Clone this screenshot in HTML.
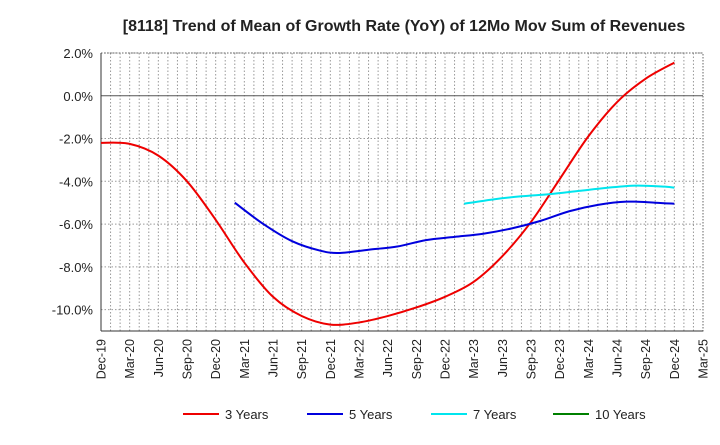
<!DOCTYPE html>
<html><head><meta charset="utf-8"><style>
body{margin:0;background:#fff;font-family:"Liberation Sans",sans-serif}
</style></head><body>
<svg id="c" width="720" height="440" xmlns="http://www.w3.org/2000/svg">
<text x="404" y="31" text-anchor="middle" font-size="16" font-weight="bold" fill="#222">[8118]  Trend of Mean of Growth Rate (YoY) of 12Mo Mov Sum of Revenues</text>
<g id="grid"></g><g id="axes"></g><g id="series"></g><g id="legend"></g>
</svg>
<script>
const xLabels=["Dec-19","Mar-20","Jun-20","Sep-20","Dec-20","Mar-21","Jun-21","Sep-21","Dec-21","Mar-22","Jun-22","Sep-22","Dec-22","Mar-23","Jun-23","Sep-23","Dec-23","Mar-24","Jun-24","Sep-24","Dec-24","Mar-25"];
const yTicks=[2,0,-2,-4,-6,-8,-10];
const m3=[0,3,6,9,12,15,18,21,24,27,30,33,36,39,42,45,48,51,54,57,60];
const v3=[-2.2,-2.25,-2.8,-4.0,-5.8,-7.8,-9.4,-10.3,-10.7,-10.6,-10.3,-9.9,-9.4,-8.7,-7.5,-5.9,-3.9,-1.9,-0.3,0.8,1.55];
const m5=[14,17,20,23,25,28,31,34,37,40,43,46,49,52,55,58,60];
const v5=[-5.0,-6.0,-6.8,-7.25,-7.35,-7.2,-7.05,-6.75,-6.6,-6.45,-6.2,-5.85,-5.4,-5.1,-4.95,-5.0,-5.05];
const m7=[38,41,44,47,50,53,56,59,60];
const v7=[-5.05,-4.85,-4.7,-4.6,-4.45,-4.3,-4.2,-4.25,-4.3];
const m10=[];const v10=[];
const NS="http://www.w3.org/2000/svg";
const L=101,R=703,T=53,B=331,YMAX=2,YMIN=-11,MMAX=63;
const X=m=>L+(R-L)*m/MMAX, Y=v=>T+(B-T)*(YMAX-v)/(YMAX-YMIN);
function mk(t,a,p){const e=document.createElementNS(NS,t);for(const k in a)e.setAttribute(k,a[k]);p.appendChild(e);return e;}
const g=document.getElementById('grid'),ax=document.getElementById('axes'),s=document.getElementById('series'),lg=document.getElementById('legend');
for(let m=1;m<MMAX;m++){const l=mk('line',{x1:X(m),x2:X(m),y1:T,y2:B,stroke:'#999','stroke-dasharray':'1.5,2','stroke-width':1},g);

}
yTicks.forEach(v=>{const l=mk('line',{x1:L,x2:R,y1:Y(v),y2:Y(v),stroke:v===0?'#555':'#999','stroke-dasharray':v===0?'':'1.5,2','stroke-width':1},g);


const t=mk('text',{x:L-8,y:Y(v)+5,'text-anchor':'end','font-size':13,fill:'#222'},ax);t.textContent=v.toFixed(1)+'%';

});
const fr=mk('rect',{x:L,y:T,width:R-L,height:B-T,fill:'none',stroke:'#666','stroke-dasharray':'1.5,1.5'},ax);


mk('line',{x1:L,x2:L,y1:T,y2:B,stroke:'#333'},ax);mk('line',{x1:L,x2:R,y1:B,y2:B,stroke:'#333'},ax);
xLabels.forEach((lab,i)=>{const x=X(i*3);const t=mk('text',{x:x+4.5,y:B+8,'text-anchor':'end','font-size':12.5,fill:'#222',transform:`rotate(-90 ${x+4.5} ${B+8})`},ax);t.textContent=lab;

});
function path(ms,vs){const p=ms.map((m,i)=>[X(m),Y(vs[i])]);if(!p.length)return'';let d=`M${p[0][0]},${p[0][1]}`;
for(let i=0;i<p.length-1;i++){const p0=p[i-1]||p[i],p1=p[i],p2=p[i+1],p3=p[i+2]||p2;
d+=` C${p1[0]+(p2[0]-p0[0])/6},${p1[1]+(p2[1]-p0[1])/6} ${p2[0]-(p3[0]-p1[0])/6},${p2[1]-(p3[1]-p1[1])/6} ${p2[0]},${p2[1]}`;}return d;}
const ser=[["3 Years",m3,v3,"#ee0000"],["5 Years",m5,v5,"#0000dd"],["7 Years",m7,v7,"#00e5ee"],["10 Years",m10,v10,"#008000"]];
ser.forEach((sr,i)=>{if(sr[1].length){const p=mk('path',{d:path(sr[1],sr[2]),fill:'none',stroke:sr[3],'stroke-width':2},s);

}
const lx=[183,307,431,553][i];const gg=mk('g',{},lg);


mk('line',{x1:lx,x2:lx+36,y1:414,y2:414,stroke:sr[3],'stroke-width':2},gg);
const t=mk('text',{x:lx+42,y:419,'font-size':13,fill:'#222'},gg);t.textContent=sr[0];});
</script>
</body></html>
